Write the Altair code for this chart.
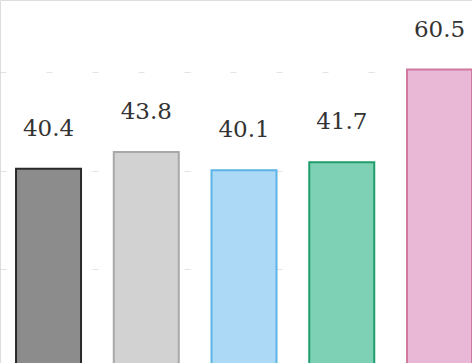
import altair as alt
import pandas as pd

# Five groups and their mean scores
groups = ["G1", "G2", "G3", "G4", "G5"]
scores = [40.4, 43.8, 40.1, 41.7, 60.5]
fills = ["#8c8c8c", "#d2d2d2", "#acd9f5", "#7fd1b6", "#e9b8d6"]
strokes = ["#2a2a2a", "#a8a8a8", "#5cb3e6", "#1f9e6c", "#d0789e"]

df = pd.DataFrame({"group": groups, "score": scores, "fill": fills, "stroke": strokes})

x = alt.X(
    "group:N",
    sort=groups,
    axis=None,
    scale=alt.Scale(paddingInner=0.335, paddingOuter=0.082, align=1),
)
y_scale = alt.Scale(domain=[0, 74.6], nice=False, zero=True)

bars = alt.Chart(df).mark_bar(strokeWidth=2, opacity=1).encode(
    x=x,
    y=alt.Y(
        "score:Q",
        scale=y_scale,
        axis=alt.Axis(
            values=[0, 20, 40, 60],
            grid=True,
            gridColor="#c8c8c8",
            gridDash=[6, 40],
            gridWidth=1,
            gridOpacity=0.5,
            labels=False,
            ticks=False,
            domain=False,
            title=None,
        ),
    ),
    fill=alt.Fill("fill:N", scale=None),
    stroke=alt.Stroke("stroke:N", scale=None),
)

labels = alt.Chart(df).mark_text(
    font="DejaVu Serif",
    fontSize=23,
    color="#333333",
    baseline="alphabetic",
    dy=-33,
).encode(
    x=x,
    y=alt.Y("score:Q", scale=y_scale),
    text=alt.Text("score:Q", format=".1f"),
)

chart = (
    alt.layer(bars, labels)
    .properties(width=472, height=368, padding=0, autosize=alt.AutoSizeParams(type="none"))
    .configure_view(strokeWidth=0, stroke="transparent")
    .configure(background="white")
)

chart.save("out.html", embed_options={"renderer": "svg", "actions": False})
